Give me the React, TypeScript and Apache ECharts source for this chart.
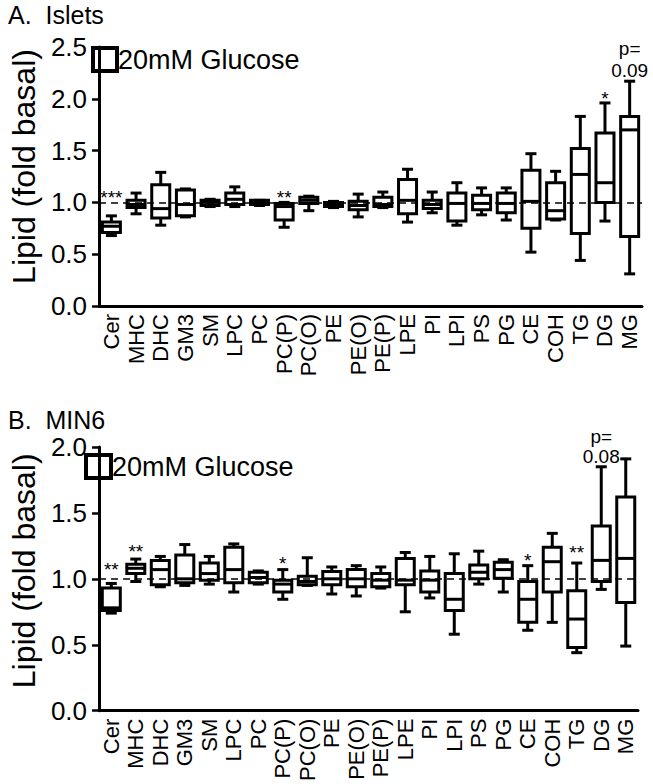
import React, { useEffect, useRef } from "react";
import * as echarts from "echarts";

const categories = ["Cer","MHC","DHC","GM3","SM","LPC","PC","PC(P)","PC(O)","PE","PE(O)","PE(P)","LPE","PI","LPI","PS","PG","CE","COH","TG","DG","MG"];

// [min, Q1, median, Q3, max]
const isletsStats = [
  [0.68, 0.71, 0.77, 0.81, 0.87],
  [0.89, 0.95, 0.98, 1.02, 1.09],
  [0.78, 0.85, 0.94, 1.17, 1.29],
  [0.86, 0.87, 0.98, 1.12, 1.13],
  [0.96, 0.97, 1.0, 1.02, 1.03],
  [0.96, 0.98, 1.03, 1.09, 1.15],
  [0.97, 0.98, 1.0, 1.02, 1.02],
  [0.76, 0.83, 0.96, 0.99, 1.0],
  [0.92, 0.99, 1.02, 1.05, 1.06],
  [0.95, 0.96, 0.98, 1.0, 1.01],
  [0.86, 0.93, 0.97, 1.01, 1.08],
  [0.95, 0.96, 0.98, 1.05, 1.1],
  [0.81, 0.89, 1.02, 1.22, 1.32],
  [0.9, 0.94, 0.98, 1.02, 1.1],
  [0.78, 0.82, 0.99, 1.09, 1.19],
  [0.88, 0.93, 0.99, 1.07, 1.14],
  [0.83, 0.9, 0.99, 1.09, 1.14],
  [0.52, 0.75, 1.01, 1.31, 1.47],
  [0.83, 0.84, 0.92, 1.19, 1.3],
  [0.44, 0.7, 1.27, 1.52, 1.83],
  [0.82, 1.0, 1.19, 1.67, 1.96],
  [0.31, 0.67, 1.7, 1.83, 2.17],
];

const min6Stats = [
  [0.74, 0.76, 0.78, 0.93, 0.965],
  [0.98, 1.04, 1.08, 1.11, 1.15],
  [0.94, 0.955, 1.07, 1.14, 1.17],
  [0.95, 0.97, 1.0, 1.18, 1.26],
  [0.96, 0.99, 1.04, 1.12, 1.17],
  [0.9, 0.97, 1.07, 1.24, 1.265],
  [0.96, 0.97, 1.01, 1.05, 1.06],
  [0.845, 0.9, 0.96, 0.99, 1.07],
  [0.95, 0.955, 0.98, 1.02, 1.16],
  [0.885, 0.955, 1.0, 1.055, 1.09],
  [0.87, 0.94, 1.0, 1.07, 1.1],
  [0.93, 0.94, 0.99, 1.04, 1.09],
  [0.75, 0.955, 0.99, 1.155, 1.2],
  [0.855, 0.9, 0.99, 1.06, 1.17],
  [0.58, 0.76, 0.845, 1.04, 1.19],
  [0.96, 1.0, 1.05, 1.105, 1.21],
  [0.9, 1.005, 1.07, 1.125, 1.145],
  [0.61, 0.67, 0.845, 0.98, 1.1],
  [0.67, 0.9, 1.13, 1.24, 1.345],
  [0.44, 0.48, 0.695, 0.91, 1.12],
  [0.92, 0.98, 1.14, 1.4, 1.85],
  [0.49, 0.82, 1.155, 1.62, 1.91],
];

// annotations: [category, y value, text]
const isletsNotes: [string, number, string][] = [
  ["Cer", 1.05, "***"],
  ["PC(P)", 1.05, "**"],
  ["DG", 2.0, "*"],
  ["MG", 2.49, "p="],
  ["MG", 2.27, "0.09"],
];
const min6Notes: [string, number, string][] = [
  ["Cer", 1.07, "**"],
  ["MHC", 1.21, "**"],
  ["PC(P)", 1.12, "*"],
  ["CE", 1.14, "*"],
  ["TG", 1.2, "**"],
  ["DG", 2.08, "p="],
  ["DG", 1.93, "0.08"],
];

const isletsTicks = { min: 0, max: 2.5, interval: 0.5 };
const min6Ticks = { min: 0, max: 2.0, interval: 0.5 };

const FONT = "'Liberation Sans', Arial, Helvetica, sans-serif";

function boxRender(params: any, api: any) {
  const i = api.value(0);
  const vmin = api.coord([i, api.value(1)]);
  const q1 = api.coord([i, api.value(2)]);
  const med = api.coord([i, api.value(3)]);
  const q3 = api.coord([i, api.value(4)]);
  const vmax = api.coord([i, api.value(5)]);
  const cx = vmin[0];
  const hw = 9;
  const cw = 5.5;
  const st = { stroke: "#000", lineWidth: 3, fill: "none" };
  return {
    type: "group",
    children: [
      { type: "line", shape: { x1: cx, y1: q3[1], x2: cx, y2: vmax[1] }, style: st },
      { type: "line", shape: { x1: cx - cw, y1: vmax[1], x2: cx + cw, y2: vmax[1] }, style: st },
      { type: "line", shape: { x1: cx, y1: q1[1], x2: cx, y2: vmin[1] }, style: st },
      { type: "line", shape: { x1: cx - cw, y1: vmin[1], x2: cx + cw, y2: vmin[1] }, style: st },
      { type: "rect", shape: { x: cx - hw, y: q3[1], width: hw * 2, height: q1[1] - q3[1] }, style: { stroke: "#000", lineWidth: 3, fill: "none" } },
      { type: "line", shape: { x1: cx - hw, y1: med[1], x2: cx + hw, y2: med[1] }, style: st },
    ],
  };
}

function noteRender(notes: [string, number, string][]) {
  return (params: any, api: any) => {
    const n = notes[params.dataIndex];
    const p = api.coord([categories.indexOf(n[0]), n[1]]);
    return {
      type: "text",
      x: p[0],
      y: p[1],
      style: {
        text: n[2],
        fill: "#000",
        fontSize: 19,
        fontFamily: FONT,
        align: "center",
        verticalAlign: "middle",
      },
    };
  };
}

function xAxisCfg(gridIndex: number) {
  return {
    type: "category",
    gridIndex,
    data: categories,
    boundaryGap: true,
    axisLine: { lineStyle: { color: "#000", width: 3 } },
    axisTick: { alignWithLabel: true, length: 6, lineStyle: { width: 2.5, color: "#000" } },
    axisLabel: { rotate: 90, interval: 0, fontSize: 22, margin: 8, color: "#000", fontFamily: FONT },
    splitLine: { show: false },
  };
}

function yAxisCfg(gridIndex: number, t: { min: number; max: number; interval: number }, shift: number) {
  return {
    type: "value",
    gridIndex,
    min: t.min,
    max: t.max,
    interval: t.interval,
    name: "Lipid (fold basal)",
    nameLocation: "middle",
    nameRotate: 90,
    nameGap: 58,
    nameTextStyle: { fontSize: 32, color: "#000", fontFamily: FONT, padding: [0, 0, 0, shift] },
    axisLine: { show: true, lineStyle: { color: "#000", width: 3 } },
    axisTick: { show: true, length: 7, lineStyle: { width: 2.5, color: "#000" } },
    axisLabel: { fontSize: 26, margin: 12, color: "#000", fontFamily: FONT, formatter: (v: number) => v.toFixed(1) },
    splitLine: { show: false },
  };
}

const dashLine = {
  silent: true,
  symbol: ["none", "none"],
  label: { show: false },
  lineStyle: { type: [7, 5], color: "#000", width: 1.5 },
  data: [{ yAxis: 1 }],
};

export default function App() {
  const ref = useRef<HTMLDivElement>(null);
  useEffect(() => {
    if (!ref.current) return;
    const chart = echarts.init(ref.current, undefined, { renderer: "svg" });
    chart.setOption({
      animation: false,
      backgroundColor: "#fff",
      title: [
        { text: "A.  Islets", left: 8, top: 2, padding: 0, textStyle: { fontSize: 25, fontWeight: "normal", color: "#000", fontFamily: FONT } },
        { text: "B.  MIN6", left: 8, top: 407, padding: 0, textStyle: { fontSize: 25, fontWeight: "normal", color: "#000", fontFamily: FONT } },
      ],
      grid: [
        { left: 87, width: 555, top: 47, height: 259 },
        { left: 83, width: 555, top: 447, height: 264 },
      ],
      xAxis: [xAxisCfg(0), xAxisCfg(1)],
      yAxis: [yAxisCfg(0, isletsTicks, 20), yAxisCfg(1, min6Ticks, 16)],
      graphic: [
        { type: "rect", shape: { x: 93, y: 48, width: 24, height: 23 }, style: { fill: "none", stroke: "#000", lineWidth: 4 } },
        { type: "text", x: 118, y: 60, style: { text: "20mM Glucose", fontSize: 27, fontFamily: FONT, fill: "#000", verticalAlign: "middle" } },
        { type: "rect", shape: { x: 86, y: 455, width: 25, height: 23 }, style: { fill: "none", stroke: "#000", lineWidth: 4 } },
        { type: "text", x: 112, y: 467, style: { text: "20mM Glucose", fontSize: 27, fontFamily: FONT, fill: "#000", verticalAlign: "middle" } },
      ],
      series: [
        {
          type: "custom",
          name: "Islets",
          xAxisIndex: 0,
          yAxisIndex: 0,
          data: isletsStats.map((s, i) => [i, ...s]),
          encode: { x: 0, y: [1, 2, 3, 4, 5] },
          renderItem: boxRender,
          markLine: dashLine,
          clip: false,
        },
        {
          type: "custom",
          name: "MIN6",
          xAxisIndex: 1,
          yAxisIndex: 1,
          data: min6Stats.map((s, i) => [i, ...s]),
          encode: { x: 0, y: [1, 2, 3, 4, 5] },
          renderItem: boxRender,
          markLine: dashLine,
          clip: false,
        },
        {
          type: "custom",
          xAxisIndex: 0,
          yAxisIndex: 0,
          data: isletsNotes.map((n) => [categories.indexOf(n[0]), n[1]]),
          encode: { x: 0, y: 1 },
          renderItem: noteRender(isletsNotes),
          clip: false,
          silent: true,
        },
        {
          type: "custom",
          xAxisIndex: 1,
          yAxisIndex: 1,
          data: min6Notes.map((n) => [categories.indexOf(n[0]), n[1]]),
          encode: { x: 0, y: 1 },
          renderItem: noteRender(min6Notes),
          clip: false,
          silent: true,
        },
      ],
    });
    return () => chart.dispose();
  }, []);
  return <div ref={ref} style={{ position: "absolute", left: 0, top: 0, width: 653, height: 784 }} />;
}
